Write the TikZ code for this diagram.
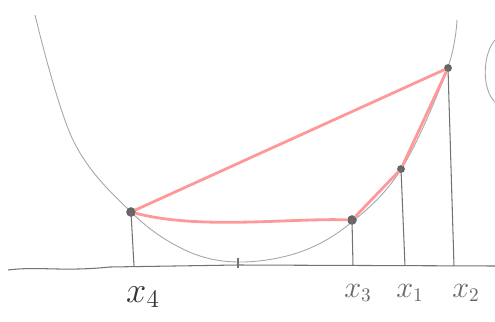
\documentclass[tikz,border=0pt]{standalone}
\usetikzlibrary{calc}
\begin{document}
\begin{tikzpicture}[x=0.02cm,y=-0.02cm,
  pencil/.style={draw=black!55,line width=0.6pt},
  curve/.style={draw=black!35,line width=0.5pt},
  chord/.style={draw=red!40,line width=1.6pt,line cap=round},
  dot/.style={circle,fill=black!60,inner sep=0pt,minimum size=5.5pt},
  lbl/.style={text=black!80,font=\fontsize{20}{22}\selectfont},
  lbls/.style={text=black!60,font=\fontsize{16}{18}\selectfont}]
\useasboundingbox (0,0) rectangle (495,322);
% axis
\draw[pencil] (8,270) .. controls (40,266) and (60,272) .. (110,267) -- (238,265) -- (495,266);
% parabola
\draw[curve] plot[smooth,tension=0.6] coordinates {(35,15) (73,140) (131,212) (185,250) (238,262) (300,252) (352,222) (402,168) (447,70) (457,20)};
% right-edge arc
\draw[curve] (495,40) .. controls (482,55) and (482,90) .. (495,102);
% points
\node[dot] (p4) at (131,212) {};
\node[dot] (p3) at (352,220) {};
\node[dot,minimum size=4.5pt] (p1) at (401,169) {};
\node[dot,minimum size=4.5pt] (p2) at (448,68) {};
% foot coordinates
\coordinate (f4) at (134,266);
\coordinate (f3) at (353,265);
\coordinate (f1) at (405,266);
\coordinate (f2) at (454,266);
\draw[pencil] (p4.center) -- (f4);
\draw[pencil] (p3.center) -- (f3);
\draw[pencil] (p1.center) -- (f1);
\draw[pencil] (p2.center) -- (f2);
% tick
\coordinate (t1) at (238,258);
\coordinate (t2) at (238,268);
\draw[pencil,line width=0.8pt] (t1) -- (t2);
% chords
\draw[chord] (p4) -- (p2);
\draw[chord] (p4) .. controls (200,230) and (290,218) .. (p3);
\draw[chord] (p3) -- (p1);
\draw[chord] (p1) -- (p2);
% labels
\node[lbl] (l4) at (143,297) {$x_4$};
\node[lbls] (l3) at (358,293) {$x_3$};
\node[lbls] (l1) at (410,293) {$x_1$};
\node[lbls] (l2) at (466,293) {$x_2$};
\end{tikzpicture}
\end{document}
